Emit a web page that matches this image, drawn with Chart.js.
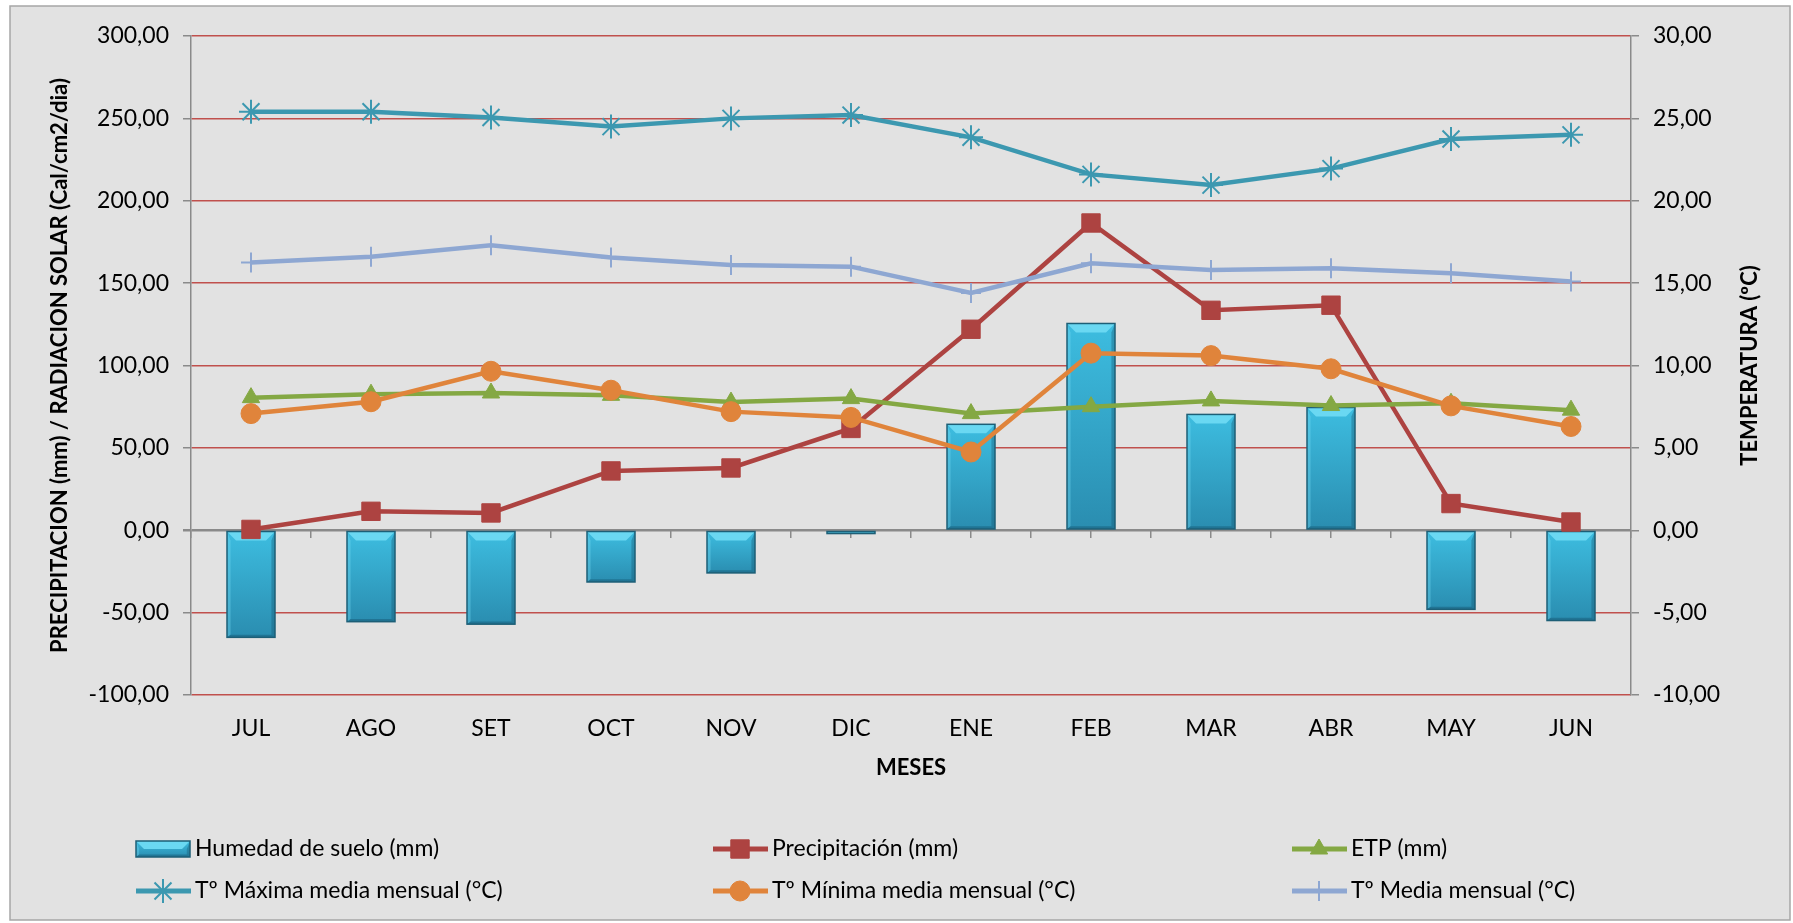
<!DOCTYPE html>
<html>
<head>
<meta charset="utf-8">
<script src="https://cdn.jsdelivr.net/npm/chart.js@4.4.1/dist/chart.umd.min.js"></script>
<style>
  html, body { margin: 0; padding: 0; background: #fff; }
  canvas { display: block; }
</style>
</head>
<body>
<canvas id="balanceChart" width="1793" height="923"></canvas>
<script>
// Months (hydrological year JUL -> JUN)
const months = ['JUL', 'AGO', 'SET', 'OCT', 'NOV', 'DIC', 'ENE', 'FEB', 'MAR', 'ABR', 'MAY', 'JUN'];

// Left axis series (mm)
const humedadSuelo = [-65.0, -55.5, -57.0, -31.4, -25.9, -2.0, 64.3, 125.5, 70.3, 74.5, -48.0, -54.8];
const precipitacion = [0.5, 11.5, 10.5, 36.0, 37.8, 61.8, 122.0, 186.5, 133.5, 136.6, 16.2, 5.0];
const etp = [80.5, 82.6, 83.3, 81.9, 77.8, 79.9, 70.8, 75.0, 78.5, 75.7, 77.1, 72.9];

// Right axis series (°C)
const tMaxima = [25.4, 25.4, 25.05, 24.5, 25.0, 25.2, 23.85, 21.6, 20.95, 21.95, 23.75, 24.0];
const tMinima = [7.08, 7.8, 9.65, 8.5, 7.2, 6.85, 4.75, 10.75, 10.6, 9.8, 7.55, 6.3];
const tMedia = [16.25, 16.6, 17.3, 16.55, 16.1, 16.0, 14.4, 16.2, 15.8, 15.9, 15.6, 15.1];

// Axis ranges / ticks
const leftTicks = { min: -100, max: 300, step: 50 };
const rightTicks = { min: -10, max: 30, step: 5 };

const GREY = '#8a8a8a';
const GRID_RED = '#c0504d';
const FONT = 'Lato, "Open Sans", sans-serif';

Chart.defaults.font.family = FONT;
Chart.defaults.color = '#000';

/** Formats a tick with two decimals and a decimal comma. */
function commaFmt(value) {
    return value.toFixed(2).replace('.', ',');
}

/** Paints the grey frame behind the chart. */
const framePlugin = {
    id: 'frame',
    beforeDraw(chart) {
        const ctx = chart.ctx;
        ctx.save();
        ctx.fillStyle = '#ffffff';
        ctx.fillRect(0, 0, chart.width, chart.height);
        ctx.fillStyle = '#e2e2e2';
        ctx.fillRect(10, 6, 1780, 914);
        ctx.strokeStyle = '#a6a6a6';
        ctx.lineWidth = 1.5;
        ctx.strokeRect(10, 6, 1780, 914);
        ctx.restore();
    }
};

/** Paints a bevelled face on a bar box. */
function bevelBox(ctx, left, top, w, h) {
    const b = Math.min(9, h / 2);
    const body = ctx.createLinearGradient(0, top, 0, top + h);
    body.addColorStop(0, '#3dbde0');
    body.addColorStop(1, '#2a8db0');
    ctx.fillStyle = body;
    ctx.fillRect(left, top, w, h);
    // top bevel (light)
    ctx.fillStyle = '#6ad8f2';
    ctx.beginPath();
    ctx.moveTo(left, top);
    ctx.lineTo(left + w, top);
    ctx.lineTo(left + w - b, top + b);
    ctx.lineTo(left + b, top + b);
    ctx.closePath();
    ctx.fill();
    // left side (slightly light)
    ctx.fillStyle = 'rgba(120, 220, 245, 0.35)';
    ctx.beginPath();
    ctx.moveTo(left, top);
    ctx.lineTo(left + b * 0.4, top + b);
    ctx.lineTo(left + b * 0.4, top + h - b * 0.3);
    ctx.lineTo(left, top + h);
    ctx.closePath();
    ctx.fill();
    // right side and bottom (dark)
    ctx.fillStyle = 'rgba(20, 80, 105, 0.35)';
    ctx.beginPath();
    ctx.moveTo(left + w, top);
    ctx.lineTo(left + w - b * 0.4, top + b);
    ctx.lineTo(left + w - b * 0.4, top + h - b * 0.3);
    ctx.lineTo(left + w, top + h);
    ctx.closePath();
    ctx.fill();
    ctx.fillStyle = 'rgba(15, 70, 95, 0.35)';
    ctx.beginPath();
    ctx.moveTo(left, top + h);
    ctx.lineTo(left + b * 0.4, top + h - b * 0.3);
    ctx.lineTo(left + w - b * 0.4, top + h - b * 0.3);
    ctx.lineTo(left + w, top + h);
    ctx.closePath();
    ctx.fill();
    ctx.strokeStyle = '#1d5f77';
    ctx.lineWidth = 1.5;
    ctx.strokeRect(left, top, w, h);
}

/** Overlays the bevel look on the bars right after they are drawn. */
const bevelPlugin = {
    id: 'bevel',
    afterDatasetDraw(chart, args) {
        if (chart.data.datasets[args.index].type !== 'bar') return;
        const ctx = chart.ctx;
        ctx.save();
        args.meta.data.forEach((bar) => {
            const p = bar.getProps(['x', 'y', 'base', 'width'], true);
            const top = Math.min(p.y, p.base);
            const h = Math.abs(p.base - p.y);
            bevelBox(ctx, p.x - p.width / 2, top, p.width, h);
        });
        ctx.restore();
    }
};

/** Right axis title, reading bottom to top like the left one. */
const rightTitlePlugin = {
    id: 'rightTitle',
    afterDraw(chart) {
        const ctx = chart.ctx;
        const area = chart.chartArea;
        ctx.save();
        ctx.translate(1750, (area.top + area.bottom) / 2);
        ctx.rotate(-Math.PI / 2);
        ctx.font = 'bold 22px ' + FONT;
        ctx.fillStyle = '#000';
        ctx.textAlign = 'center';
        ctx.textBaseline = 'middle';
        ctx.fillText('TEMPERATURA (ºC)', 0, 0);
        ctx.restore();
    }
};

/** Draws the legend as a 3 column grid like the original. */
const gridLegendPlugin = {
    id: 'gridLegend',
    afterDraw(chart) {
        const ctx = chart.ctx;
        const cols = [136, 713, 1292];
        const rows = [849, 891];
        ctx.save();
        ctx.font = '23px ' + FONT;
        ctx.textBaseline = 'middle';
        chart.data.datasets.forEach((ds, i) => {
            const x = cols[i % 3];
            const y = rows[Math.floor(i / 3)];
            if (ds.type === 'line') {
                ctx.strokeStyle = ds.borderColor;
                ctx.lineWidth = 5;
                ctx.beginPath();
                ctx.moveTo(x, y);
                ctx.lineTo(x + 55, y);
                ctx.stroke();
                ctx.fillStyle = ds.pointBackgroundColor;
                ctx.strokeStyle = ds.pointBorderColor;
                ctx.lineWidth = ds.pointBorderWidth;
                Chart.helpers.drawPoint(ctx, {
                    pointStyle: ds.pointStyle,
                    radius: ds.pointRadius,
                    rotation: 0,
                    borderWidth: ds.pointBorderWidth
                }, x + 27, y);
            } else {
                bevelBox(ctx, x, y - 8, 54, 16);
            }
            ctx.fillStyle = '#000';
            ctx.fillText(ds.label, x + 59, y);
        });
        ctx.restore();
    }
};

function lineSet(label, data, color, style, radius, axis, order, pointBorder) {
    return {
        type: 'line',
        label: label,
        data: data,
        yAxisID: axis,
        order: order,
        borderColor: color,
        backgroundColor: color,
        borderWidth: 4.5,
        pointStyle: style,
        pointRadius: radius,
        pointHoverRadius: radius,
        pointBackgroundColor: color,
        pointBorderColor: color,
        pointBorderWidth: pointBorder,
        tension: 0,
        fill: false
    };
}

const chartCanvas = document.getElementById('balanceChart').getContext('2d');

const balanceChart = new Chart(chartCanvas, {
    type: 'bar',
    data: {
        labels: months,
        datasets: [
            {
                type: 'bar',
                label: 'Humedad de suelo (mm)',
                data: humedadSuelo,
                yAxisID: 'y',
                order: 10,
                backgroundColor: '#32a8c8',
                borderColor: '#1c6680',
                borderWidth: 1.5,
                barPercentage: 0.4,
                categoryPercentage: 1
            },
            lineSet('Precipitación (mm)', precipitacion, '#ad4341', 'rect', 13, 'y', 6, 1),
            lineSet('ETP (mm)', etp, '#84a843', 'triangle', 10, 'y', 5, 1),
            lineSet('Tº Máxima media mensual (°C)', tMaxima, '#3c98b0', 'star', 12, 'y1', 4, 2),
            lineSet('Tº Mínima media mensual (°C)', tMinima, '#e0843b', 'circle', 10, 'y1', 3, 1),
            lineSet('Tº Media mensual (°C)', tMedia, '#8ea7d2', 'cross', 10, 'y1', 2, 2)
        ]
    },
    options: {
        responsive: false,
        animation: false,
        devicePixelRatio: 1,
        layout: {
            padding: { left: 35, right: 10, top: 36, bottom: 138 }
        },
        plugins: {
            legend: { display: false },
            tooltip: { enabled: false }
        },
        scales: {
            x: {
                type: 'category',
                position: 'bottom',
                offset: true,
                grid: { display: false, drawTicks: false },
                border: { display: false },
                ticks: { padding: 20, font: { size: 23 }, color: '#000' },
                title: {
                    display: true,
                    text: 'MESES',
                    font: { size: 22, weight: 'bold' },
                    color: '#000',
                    padding: { top: 0, bottom: 4 }
                },
                afterFit(scale) { scale.height = 90; }
            },
            xZero: {
                type: 'category',
                axis: 'x',
                position: { y: 0 },
                offset: true,
                grid: { offset: true, drawOnChartArea: false, tickLength: 8, color: GREY, lineWidth: 1.5 },
                border: { display: false },
                ticks: { display: false }
            },
            xZeroMid: {
                type: 'category',
                axis: 'x',
                position: { y: 0 },
                offset: true,
                grid: { offset: false, drawOnChartArea: false, tickLength: 8, color: GREY, lineWidth: 1.5 },
                border: { display: false },
                ticks: { display: false }
            },
            y: {
                type: 'linear',
                position: 'left',
                min: leftTicks.min,
                max: leftTicks.max,
                ticks: {
                    stepSize: leftTicks.step,
                    padding: 14,
                    font: { size: 23 },
                    color: '#000',
                    callback: (v) => commaFmt(v)
                },
                grid: {
                    color: (c) => (c.tick && c.tick.value === 0) ? GREY : GRID_RED,
                    lineWidth: (c) => (c.tick && c.tick.value === 0) ? 2.5 : 1.5,
                    tickColor: GREY,
                    tickLength: 8
                },
                border: { display: true, color: GREY, width: 1.5 },
                title: {
                    display: true,
                    text: 'PRECIPITACION (mm) / RADIACION SOLAR (Cal/cm2/dia)',
                    font: { size: 22, weight: 'bold' },
                    color: '#000',
                    padding: { top: 12, bottom: 0 }
                },
                afterFit(scale) { scale.width = 156; }
            },
            y1: {
                type: 'linear',
                position: 'right',
                min: rightTicks.min,
                max: rightTicks.max,
                ticks: {
                    stepSize: rightTicks.step,
                    padding: 14,
                    font: { size: 23 },
                    color: '#000',
                    callback: (v) => commaFmt(v)
                },
                grid: {
                    drawOnChartArea: false,
                    tickColor: GREY,
                    tickLength: 8,
                    lineWidth: 1.5
                },
                border: { display: true, color: GREY, width: 1.5 },
                afterFit(scale) { scale.width = 152; }
            }
        }
    },
    plugins: [framePlugin, bevelPlugin, rightTitlePlugin, gridLegendPlugin]
});
</script>
</body>
</html>
